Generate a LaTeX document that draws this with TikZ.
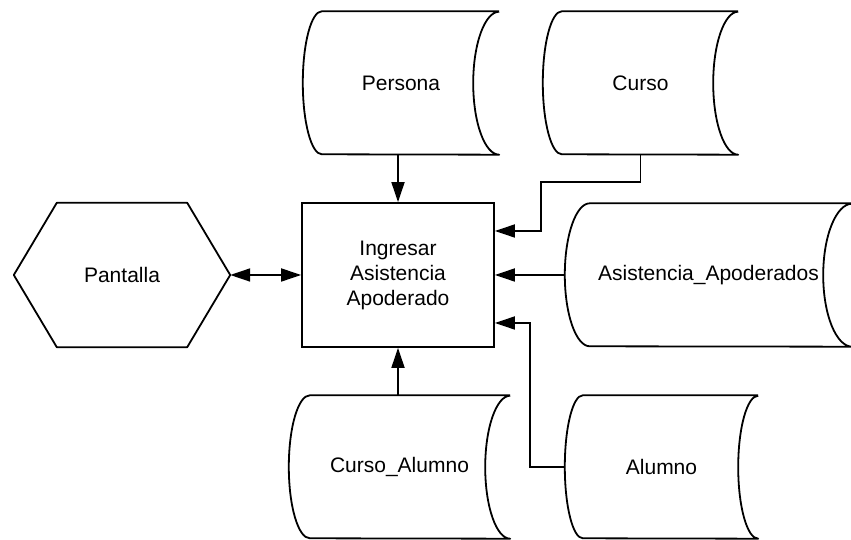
\documentclass[tikz,border=0pt]{standalone}
\usepackage{fontspec}
\setmainfont{Liberation Sans}
\usetikzlibrary{arrows.meta}

% outline of a stored-data symbol: convex left side, concave right side
% #1 node name, #2 left bulge, #3 right bulge, #4 half height
\newcommand\drawstore[4]{%
  \draw[outline] (#1.north east) -- ([xshift=#2]#1.north west)
    arc[start angle=90, end angle=270, x radius=#2, y radius=#4]
    -- (#1.south east)
    arc[start angle=270, end angle=90, x radius=#3, y radius=#4];
}

\begin{document}
\begin{tikzpicture}[x=1pt, y=1pt,
  outline/.style={line width=1.8pt, line join=round},
  label/.style={font=\fontsize{21}{25}\selectfont, inner sep=0pt, align=center},
  store/.style={label, minimum height=143pt},
  procbox/.style={label, draw, line width=1.8pt, minimum width=192pt, minimum height=144pt},
  screen/.style={label, minimum width=216pt, minimum height=144pt},
  arr/.style={line width=1.8pt, -{Triangle[length=20pt, width=13pt]}},
  arrboth/.style={line width=1.8pt, {Triangle[length=20pt, width=13pt]}-{Triangle[length=20pt, width=13pt]}}]

\useasboundingbox (0,0) rectangle (851,540);

% process in the middle
\node[procbox] (box) at (398,265) {Ingresar\\Asistencia\\Apoderado};

% screen (hexagon)
\node[screen] (pant) at (122,265) {Pantalla};
\draw[outline] (pant.west) -- ([xshift=43pt]pant.north west) -- ([xshift=-43pt]pant.north east)
  -- (pant.east) -- ([xshift=-43pt]pant.south east) -- ([xshift=43pt]pant.south west) -- cycle;

% data stores
\node[store, minimum width=196pt] (persona) at (401,457) {Persona};
\drawstore{persona}{19pt}{26pt}{71.5pt}
\node[store, minimum width=195pt] (curso) at (640.5,457) {Curso};
\drawstore{curso}{19pt}{25pt}{71.5pt}
\node[store, minimum width=287pt] (asist) at (708.5,265) {Asistencia\_Apoderados};
\drawstore{asist}{25pt}{29pt}{71.5pt}
\node[store, minimum width=221pt] (cursoal) at (399.5,73) {Curso\_Alumno};
\drawstore{cursoal}{21pt}{25pt}{71.5pt}
\node[store, minimum width=193pt] (alumno) at (661.5,73) {Alumno};
\drawstore{alumno}{18pt}{20pt}{71.5pt}

% bends of the elbow connectors
\coordinate (ckA) at (541,358);
\coordinate (akA) at (530,217);

% connectors
\draw[arrboth] (pant.east) -- (box.west);
\draw[arr] (persona.south -| box.north) -- (box.north);
\draw[arr] (curso.south) |- (ckA) |- ([yshift=44pt]box.east);
\draw[arr] (asist.west) -- (box.east |- asist.west);
\draw[arr] (alumno.west) -| (akA) -- (box.east |- akA);
\draw[arr] (cursoal.north -| box.south) -- (box.south);

\end{tikzpicture}
\end{document}
